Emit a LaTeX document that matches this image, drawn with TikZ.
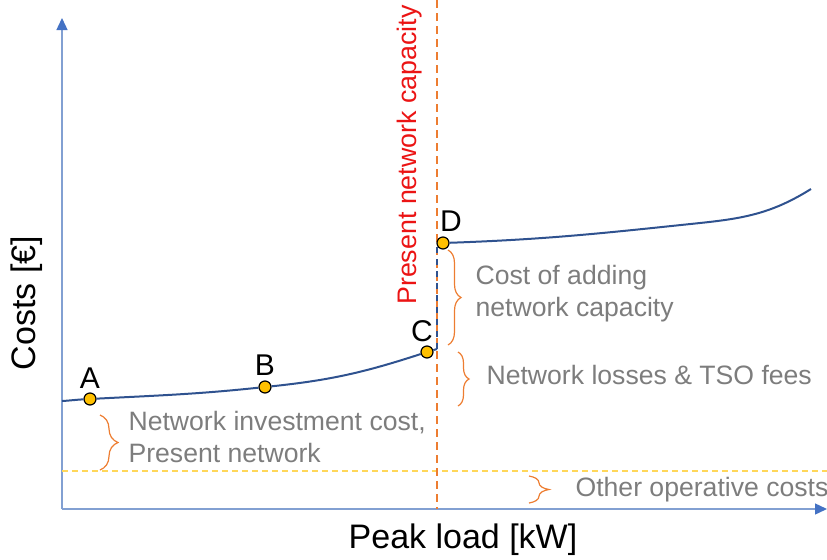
\documentclass[tikz,border=0pt]{standalone}
\usepackage{fontspec}
\setmainfont{Liberation Sans}
\usetikzlibrary{arrows.meta,positioning,decorations.pathreplacing}
\definecolor{axisblue}{RGB}{68,114,196}
\definecolor{axisline}{RGB}{130,160,210}
\definecolor{curveblue}{RGB}{47,82,143}
\definecolor{capred}{RGB}{235,20,20}
\definecolor{orange}{RGB}{237,125,49}
\definecolor{gold}{RGB}{255,192,0}
\definecolor{softgold}{RGB}{255,215,90}
\definecolor{greytxt}{RGB}{125,125,125}
\tikzset{
  axis/.style={draw=axisline,line width=0.7pt,-{Triangle[length=6pt,width=5.5pt,color=axisblue]}},
  curve/.style={draw=curveblue,line width=1pt},
  jump/.style={curve,dash pattern=on 3pt off 3pt},
  capline/.style={draw=orange,line width=0.8pt,dash pattern=on 4pt off 2.5pt},
  baseline/.style={draw=softgold,line width=0.7pt,dash pattern=on 3pt off 2pt},
  dot/.style={circle,fill=gold,draw=black,line width=0.6pt,minimum size=6pt,inner sep=0pt},
  lbl/.style={font=\fontsize{15}{18}\selectfont,inner sep=0pt},
  brc/.style={draw=orange,line width=0.6pt,decorate,decoration={brace,amplitude=#1}},
  note/.style={font=\fontsize{13.3}{16}\selectfont,text=greytxt,align=left,inner sep=0pt,anchor=west},
  axlbl/.style={font=\fontsize{17}{20}\selectfont,inner sep=0pt}
}
\begin{document}
\begin{tikzpicture}[x=0.5pt,y=-0.5pt]
  \useasboundingbox (0,0) rectangle (827,559);
  % axes
  \coordinate (orig) at (62,509);
  \coordinate (ytop) at (62,18);
  \coordinate (xend) at (827,509);
  \draw[axis] (orig) -- (ytop);
  \draw[axis] (orig) -- (xend);
  \node[axlbl] (xlbl) at (463,540) {Peak load [kW]};
  \node[axlbl,rotate=90] (ylbl) at (27,303) {Costs [€]};

  % other operative costs level and present capacity
  \coordinate (opleft) at (62,471);
  \coordinate (opright) at (827,471);
  \draw[baseline] (opleft) -- (opright);
  \coordinate (captop) at (437,0);
  \coordinate (capbot) at (437,509);
  \draw[capline] (captop) -- (capbot);
  \node[font=\fontsize{13.4}{16}\selectfont,text=capred,rotate=90,inner sep=0pt] (caplbl) at (410,155) {Present network capacity};

  % points
  \node[dot] (ptA) at (90,399) {};
  \node[dot] (ptB) at (265,387) {};
  \node[dot] (ptC) at (427,352) {};
  \node[dot] (ptD) at (443,243) {};
  \node[lbl,above=2pt of ptA] (labA) {A};
  \node[lbl,above=2.5pt of ptB] (labB) {B};
  \node[lbl,above=1.5pt of ptC,xshift=-2.5pt] (labC) {C};
  \node[lbl,above=2.3pt of ptD,xshift=4pt] (labD) {D};

  % cost curve
  \coordinate (cstart) at (62,401);
  \coordinate (jlow) at (437,349);
  \coordinate (jhigh) at (437,245);
  \coordinate (cmid) at (700,223);
  \coordinate (cend) at (811,189);
  \draw[curve] (cstart) to[out=3,in=183] (ptA) to[out=3,in=186] (ptB) to[out=6,in=198] (ptC);
  \draw[curve] (ptC) -- (jlow);
  \draw[jump] (jlow) -- (jhigh);
  \draw[curve] (ptD) to[out=2,in=186] (cmid) to[out=6,in=212] (cend);

  % braces
  \draw[brc=6.5pt] (448,250) -- (448,345) node[note,midway,right=13.5pt,yshift=1.75pt] (nadd) {Cost of adding\\network capacity};
  \draw[brc=5.5pt] (458,352) -- (458,406) node[note,midway,right=14pt,yshift=2pt] (nloss) {Network losses \& TSO fees};
  \draw[brc=9pt] (100,415) -- (100,470) node[note,midway,right=14pt,yshift=2.75pt] (ninv) {Network investment cost,\\Present network};
  \draw[brc=10pt] (529,476) -- (529,503) node[note,midway,right=23pt] (nop) {Other operative costs};
\end{tikzpicture}
\end{document}
